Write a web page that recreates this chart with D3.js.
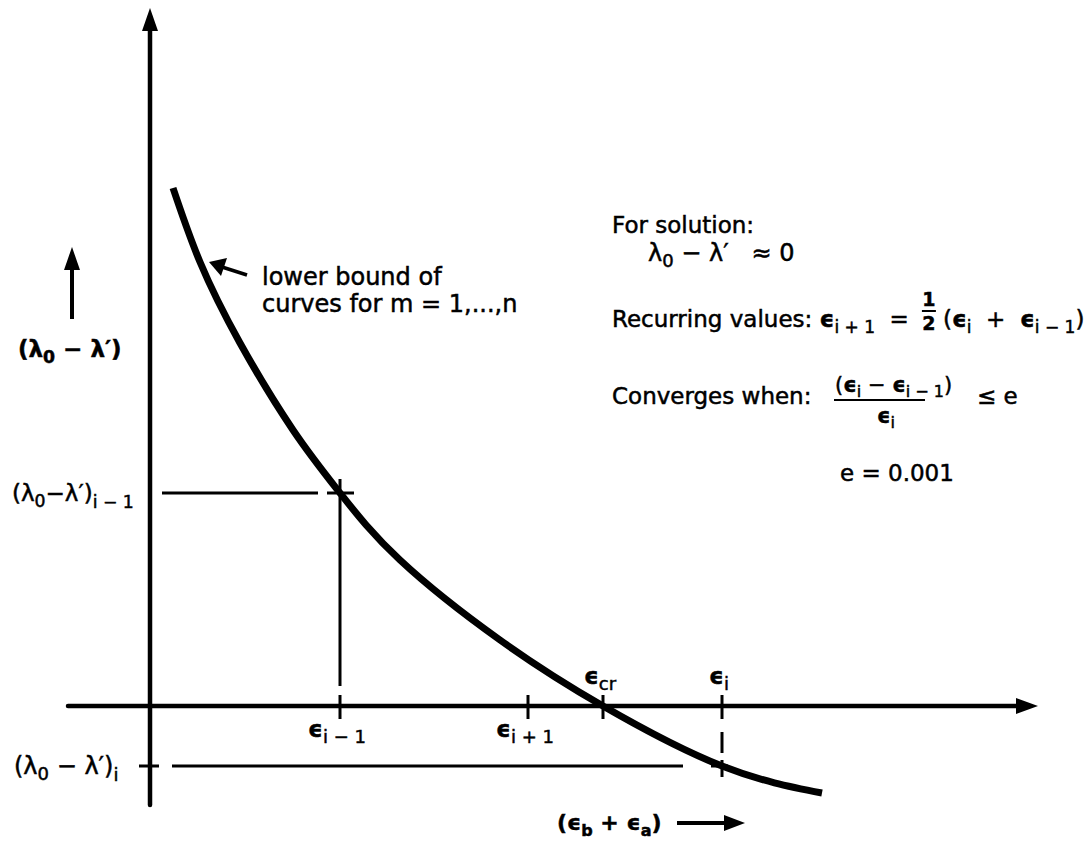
<!DOCTYPE html>
<html>
<head>
<meta charset="utf-8">
<script src="https://cdn.jsdelivr.net/npm/d3@7"></script>
<style>
  html, body { margin: 0; padding: 0; background: #fff; }
  svg { display: block; }
  text { font-family: "DejaVu Sans", sans-serif; fill: #000; stroke: #000; stroke-width: 0.5px; white-space: pre; }
</style>
</head>
<body>
<script>
// Lower-bound curve of (λ0 − λ') against (εb + εa)
const curveEps   = [0.23, 0.50, 0.90, 1.43, 1.90, 2.50, 3.50, 4.53, 5.72, 6.72];
const curveDelta = [5.18, 4.44, 3.63, 2.76, 2.13, 1.46, 0.66, 0.00, -0.60, -0.87];

// Marked iterates on the ε axis
const epsTickValues = [1.90, 3.78, 4.53, 5.72];
const epsTickSubs   = ["i − 1", "i + 1", "cr", "i"];
const epsTickSide   = ["below", "below", "above", "above"];

// Marked values of (λ0 − λ')
const deltaTickValues = [2.13, -0.60];
const deltaTickSubs   = ["i − 1", "i"];

const W = 1088, H = 846;
const svg = d3.select("body").append("svg").attr("width", W).attr("height", H);

const x = d3.scaleLinear().domain([0, 8.88]).range([150, 1038]);
const y = d3.scaleLinear().domain([0, 6.98]).range([706, 8]);

const ink = "#000";

// ---- axes with arrowheads ----
const xMinAxis = x.invert(68), yMinAxis = y.invert(805);
svg.append("line")
  .attr("x1", x(xMinAxis)).attr("x2", x(8.88) - 16)
  .attr("y1", y(0)).attr("y2", y(0))
  .attr("stroke", ink).attr("stroke-width", 4.5).attr("stroke-linecap", "round");
svg.append("path")
  .attr("d", `M${x(8.88)},${y(0)} L${x(8.88) - 22},${y(0) - 8} L${x(8.88) - 22},${y(0) + 8} Z`)
  .attr("fill", ink);

svg.append("line")
  .attr("x1", x(0)).attr("x2", x(0))
  .attr("y1", y(yMinAxis)).attr("y2", y(6.98) + 16)
  .attr("stroke", ink).attr("stroke-width", 4.5).attr("stroke-linecap", "round");
svg.append("path")
  .attr("d", `M${x(0)},${y(6.98)} L${x(0) - 8},${y(6.98) + 23} L${x(0) + 8},${y(6.98) + 23} Z`)
  .attr("fill", ink);

// ---- tick marks across the ε axis ----
svg.selectAll("line.etick").data(epsTickValues).join("line")
  .attr("class", "etick")
  .attr("x1", d => x(d)).attr("x2", d => x(d))
  .attr("y1", y(0) - 11).attr("y2", y(0) + 13)
  .attr("stroke", ink).attr("stroke-width", 3);

// ---- tick labels on the ε axis ----
const epsLabels = svg.selectAll("text.elabel").data(epsTickValues).join("text")
  .attr("class", "elabel")
  .attr("x", d => x(d) - 3)
  .attr("y", (d, i) => epsTickSide[i] === "below" ? y(0) + 31 : y(0) - 22)
  .attr("text-anchor", "middle")
  .attr("font-size", 23);
epsLabels.append("tspan").attr("font-weight", "bold").text("ϵ");
epsLabels.append("tspan").attr("font-size", 18).attr("dy", 6).text((d, i) => epsTickSubs[i]);

// ---- guide lines for the (i − 1) iterate ----
const g1x = x(epsTickValues[0]), g1y = y(deltaTickValues[0]);
svg.append("line").attr("x1", g1x).attr("x2", g1x).attr("y1", g1y - 14).attr("y2", y(0) - 20)
  .attr("stroke", ink).attr("stroke-width", 3);
svg.append("line").attr("x1", x(0) + 12).attr("x2", g1x - 22).attr("y1", g1y).attr("y2", g1y)
  .attr("stroke", ink).attr("stroke-width", 3);
svg.append("line").attr("x1", g1x - 13).attr("x2", g1x + 14).attr("y1", g1y).attr("y2", g1y)
  .attr("stroke", ink).attr("stroke-width", 3);

// ---- guide lines for the i-th iterate ----
const g2x = x(epsTickValues[3]), g2y = y(deltaTickValues[1]);
[[y(0) + 26, y(0) + 47], [y(0) + 54, y(0) + 71]].forEach(([a, b]) => {
  svg.append("line").attr("x1", g2x).attr("x2", g2x).attr("y1", a).attr("y2", b)
    .attr("stroke", ink).attr("stroke-width", 3);
});
svg.append("line").attr("x1", x(0) - 11).attr("x2", x(0) + 9).attr("y1", g2y).attr("y2", g2y)
  .attr("stroke", ink).attr("stroke-width", 3);
svg.append("line").attr("x1", x(0) + 22).attr("x2", g2x - 39).attr("y1", g2y).attr("y2", g2y)
  .attr("stroke", ink).attr("stroke-width", 3);
svg.append("line").attr("x1", g2x - 11).attr("x2", g2x + 6).attr("y1", g2y).attr("y2", g2y)
  .attr("stroke", ink).attr("stroke-width", 3);

// ---- the curve ----
const pts = curveEps.map((e, i) => [e, curveDelta[i]]);
svg.append("path")
  .datum(pts)
  .attr("d", d3.line().x(d => x(d[0])).y(d => y(d[1])).curve(d3.curveNatural))
  .attr("fill", "none").attr("stroke", ink).attr("stroke-width", 7);

// ---- labels on the (λ0 − λ') axis ----
function lambdaLabel(xp, yp, mid, sub, size, bold) {
  const t = svg.append("text").attr("x", xp).attr("y", yp).attr("font-size", size)
    .attr("font-weight", bold ? "bold" : "normal");
  t.append("tspan").text("(λ");
  t.append("tspan").attr("font-size", size * 0.75).attr("dy", 6).text("0");
  t.append("tspan").attr("dy", -6).text(mid + "λ′)");
  if (sub) t.append("tspan").attr("font-size", size * 0.75).attr("dy", 7).text(sub);
  return t;
}
lambdaLabel(18, 357, " − ", null, 23, true);
lambdaLabel(12, g1y + 8, "−", deltaTickSubs[0], 23, false);
lambdaLabel(14, g2y + 8, " − ", deltaTickSubs[1], 24, false);

// up arrow beside the axis title
svg.append("line").attr("x1", 72).attr("x2", 72).attr("y1", 319).attr("y2", 262)
  .attr("stroke", ink).attr("stroke-width", 4);
svg.append("path").attr("d", "M72,247 L64,270 L80,270 Z").attr("fill", ink);

// ---- ε axis title ----
const xt = svg.append("text").attr("x", 557).attr("y", 830).attr("font-size", 22).attr("font-weight", "bold");
xt.append("tspan").text("(ϵ");
xt.append("tspan").attr("font-size", 16).attr("dy", 6).text("b");
xt.append("tspan").attr("dy", -6).text(" + ϵ");
xt.append("tspan").attr("font-size", 16).attr("dy", 6).text("a");
xt.append("tspan").attr("dy", -6).text(")");
svg.append("line").attr("x1", 677).attr("x2", 728).attr("y1", 823).attr("y2", 823)
  .attr("stroke", ink).attr("stroke-width", 4);
svg.append("path").attr("d", "M745,823 L724,815 L724,831 Z").attr("fill", ink);

// ---- annotation pointing at the curve ----
svg.append("line").attr("x1", 247).attr("x2", 222).attr("y1", 275).attr("y2", 267)
  .attr("stroke", ink).attr("stroke-width", 3.5);
svg.append("path").attr("d", "M209,262 L227,258 L221,276 Z").attr("fill", ink);
svg.append("text").attr("x", 262).attr("y", 285).attr("font-size", 24).text("lower bound of");
svg.append("text").attr("x", 262).attr("y", 312).attr("font-size", 24).text("curves for m = 1,...,n");

// ---- notes on the right ----
svg.append("text").attr("x", 612).attr("y", 233).attr("font-size", 23).text("For solution:");
const sol = svg.append("text").attr("x", 648).attr("y", 261).attr("font-size", 24);
sol.append("tspan").text("λ");
sol.append("tspan").attr("font-size", 18).attr("dy", 6).text("0");
sol.append("tspan").attr("dy", -6).text(" − λ′   ≈ 0");

// recurrence: left part, stacked one-half, right part
const recA = svg.append("text").attr("x", 612).attr("y", 327).attr("font-size", 23);
recA.append("tspan").text("Recurring values: ");
recA.append("tspan").attr("font-weight", "bold").text("ϵ");
recA.append("tspan").attr("font-size", 17).attr("dy", 6).text("i + 1");
recA.append("tspan").attr("dy", -6).text("  =");
const aEnd = 612 + recA.node().getComputedTextLength();
const hx = aEnd + 20;
svg.append("text").attr("x", hx).attr("y", 306).attr("font-size", 19).attr("font-weight", "bold")
  .attr("text-anchor", "middle").text("1");
svg.append("line").attr("x1", hx - 7).attr("x2", hx + 7).attr("y1", 311).attr("y2", 311)
  .attr("stroke", ink).attr("stroke-width", 2);
svg.append("text").attr("x", hx).attr("y", 330).attr("font-size", 19).attr("font-weight", "bold")
  .attr("text-anchor", "middle").text("2");
const recB = svg.append("text").attr("x", hx + 14).attr("y", 327).attr("font-size", 23);
recB.append("tspan").text("(");
recB.append("tspan").attr("font-weight", "bold").text("ϵ");
recB.append("tspan").attr("font-size", 17).attr("dy", 6).text("i");
recB.append("tspan").attr("dy", -6).text("  +  ");
recB.append("tspan").attr("font-weight", "bold").text("ϵ");
recB.append("tspan").attr("font-size", 17).attr("dy", 6).text("i − 1");
recB.append("tspan").attr("dy", -6).text(")");

// convergence test
svg.append("text").attr("x", 612).attr("y", 404).attr("font-size", 23).text("Converges when:");
const num = svg.append("text").attr("x", 835).attr("y", 392).attr("font-size", 21);
num.append("tspan").text("(");
num.append("tspan").attr("font-weight", "bold").text("ϵ");
num.append("tspan").attr("font-size", 16).attr("dy", 5).text("i");
num.append("tspan").attr("dy", -5).text(" − ");
num.append("tspan").attr("font-weight", "bold").text("ϵ");
num.append("tspan").attr("font-size", 16).attr("dy", 5).text("i − 1");
num.append("tspan").attr("dy", -5).text(")");
svg.append("line").attr("x1", 834).attr("x2", 925).attr("y1", 400).attr("y2", 400)
  .attr("stroke", ink).attr("stroke-width", 2);
const den = svg.append("text").attr("x", 877).attr("y", 423).attr("font-size", 21);
den.append("tspan").attr("font-weight", "bold").text("ϵ");
den.append("tspan").attr("font-size", 16).attr("dy", 5).text("i");
svg.append("text").attr("x", 977).attr("y", 404).attr("font-size", 23).text("≤ e");

svg.append("text").attr("x", 840).attr("y", 481).attr("font-size", 23).text("e = 0.001");
</script>
</body>
</html>
